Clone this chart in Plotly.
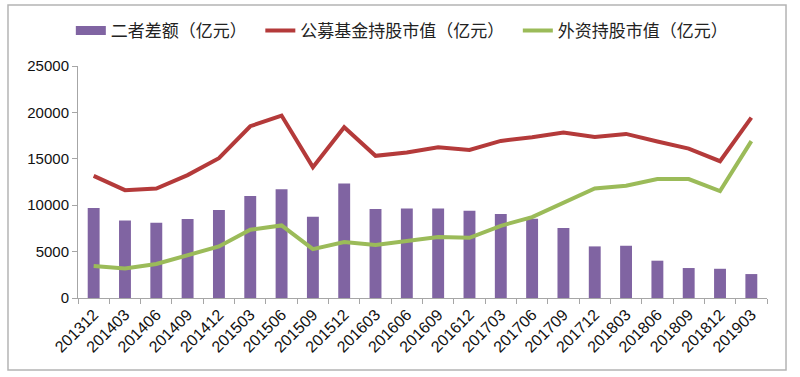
import plotly.graph_objects as go

categories = ["201312", "201403", "201406", "201409", "201412", "201503", "201506", "201509",
              "201512", "201603", "201606", "201609", "201612", "201703", "201706", "201709",
              "201712", "201803", "201806", "201809", "201812", "201903"]
diff_values = [9700, 8350, 8100, 8500, 9470, 11000, 11730, 8750, 12340, 9580, 9650, 9650,
               9400, 9040, 8540, 7530, 5560, 5630, 4020, 3230, 3150, 2580]
fund_values = [13160, 11620, 11800, 13240, 15070, 18510, 19660, 14100, 18400, 15320, 15680,
               16250, 15960, 16930, 17330, 17830, 17360, 17680, 16860, 16100, 14740, 19440]
foreign_values = [3440, 3190, 3660, 4660, 5560, 7350, 7820, 5270, 6030, 5700, 6090, 6570,
                  6490, 7780, 8720, 10290, 11800, 12090, 12810, 12810, 11520, 16900]
y_ticks = [0, 5000, 10000, 15000, 20000, 25000]
y_tick_labels = ["0", "5000", "10000", "15000", "20000", "25000"]

names = ["二者差额（亿元）", "公募基金持股市值（亿元）", "外资持股市值（亿元）"]
colors = ["#8064A2", "#B43A3A", "#9BBB59"]
pad = "\u3000"

fig = go.Figure()
fig.add_trace(go.Bar(x=categories, y=diff_values, name=names[0], showlegend=False,
                     marker=dict(color=colors[0], line=dict(width=0))))
# legend proxy for the bar series (wide rectangular swatch as in the reference)
fig.add_trace(go.Scatter(x=[categories[0]], y=[None], name=names[0] + pad, mode="lines",
                         line=dict(color=colors[0], width=9)))
fig.add_trace(go.Scatter(x=categories, y=fund_values, name=names[1] + pad, mode="lines",
                         line=dict(color=colors[1], width=4)))
fig.add_trace(go.Scatter(x=categories, y=foreign_values, name=names[2], mode="lines",
                         line=dict(color=colors[2], width=4)))

fig.update_layout(
    width=800, height=377,
    margin=dict(l=78, r=33, t=66, b=79, autoexpand=False),
    paper_bgcolor="white", plot_bgcolor="white",
    bargap=0.62,
    showlegend=True,
    legend=dict(orientation="h", x=0.47, xanchor="center", y=1.151, yanchor="middle",
                font=dict(family="Noto Sans CJK SC", size=17, color="#222"),
                itemwidth=30, tracegroupgap=0, bgcolor="rgba(0,0,0,0)"),
    font=dict(family="Liberation Sans, Arial", color="#111"),
)
fig.update_xaxes(type="category", showline=True, linecolor="#a6a6a6", linewidth=1,
                 ticks="outside", tickson="boundaries", ticklen=5, tickcolor="#a6a6a6",
                 tickangle=-45, tickfont=dict(size=16, color="#111"), showgrid=False,
                 automargin=False)
fig.update_yaxes(range=[0, 25000], tickvals=y_ticks, ticktext=y_tick_labels, showline=True,
                 linecolor="#a6a6a6", linewidth=1, ticks="outside", ticklen=5,
                 tickcolor="#a6a6a6", tickfont=dict(size=15, color="#111"), showgrid=False,
                 zeroline=False, automargin=False)

fig.add_shape(type="rect", xref="paper", yref="paper", x0=-0.1016, x1=1.0276,
              y0=-0.310, y1=1.263, line=dict(color="#b4b4b4", width=1.5), layer="below")

fig.write_html("out.html", config={"displayModeBar": False},
               post_script="document.body.style.margin='0';document.body.style.overflow='hidden';")
